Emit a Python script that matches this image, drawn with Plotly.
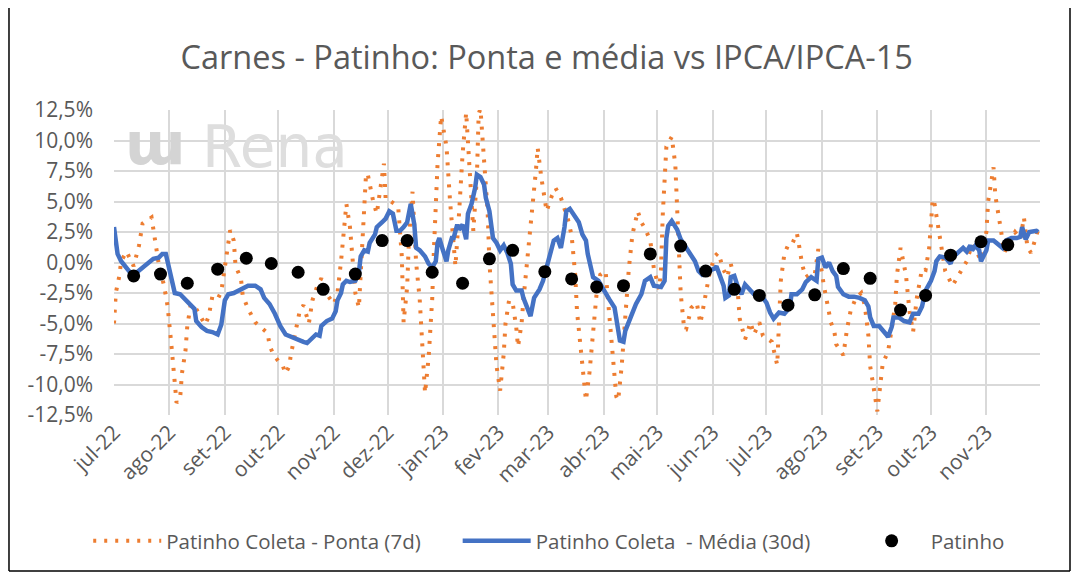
import plotly.graph_objects as go

# Patinho Coleta - Ponta (7d), variação em %
ponta_datas = [
    '2022-07-01', '2022-07-02', '2022-07-04', '2022-07-05', '2022-07-08', '2022-07-10', '2022-07-12',
    '2022-07-15', '2022-07-17', '2022-07-22', '2022-07-24', '2022-07-26', '2022-07-29', '2022-07-31',
    '2022-08-02', '2022-08-03', '2022-08-05', '2022-08-07', '2022-08-08', '2022-08-10', '2022-08-11',
    '2022-08-13', '2022-08-16', '2022-08-21', '2022-08-23', '2022-08-25', '2022-08-28', '2022-08-30',
    '2022-09-01', '2022-09-02', '2022-09-03', '2022-09-04', '2022-09-06', '2022-09-07', '2022-09-10',
    '2022-09-11', '2022-09-14', '2022-09-18', '2022-09-21', '2022-09-25', '2022-09-26', '2022-09-28',
    '2022-10-01', '2022-10-03', '2022-10-05', '2022-10-07', '2022-10-08', '2022-10-12', '2022-10-13',
    '2022-10-15', '2022-10-18', '2022-10-20', '2022-10-23', '2022-10-25', '2022-10-27', '2022-10-29',
    '2022-11-01', '2022-11-03', '2022-11-05', '2022-11-06', '2022-11-07', '2022-11-08', '2022-11-10',
    '2022-11-11', '2022-11-12', '2022-11-13', '2022-11-15', '2022-11-16', '2022-11-17', '2022-11-18',
    '2022-11-19', '2022-11-20', '2022-11-21', '2022-11-23', '2022-11-25', '2022-11-26', '2022-11-27',
    '2022-11-28', '2022-11-29', '2022-11-30', '2022-12-03', '2022-12-05', '2022-12-07', '2022-12-09',
    '2022-12-10', '2022-12-12', '2022-12-13', '2022-12-15', '2022-12-16', '2022-12-17', '2022-12-19',
    '2022-12-20', '2022-12-21', '2022-12-22', '2022-12-24', '2022-12-26', '2022-12-27', '2022-12-28',
    '2022-12-29', '2022-12-31', '2023-01-03', '2023-01-05', '2023-01-07', '2023-01-08', '2023-01-10',
    '2023-01-12', '2023-01-14', '2023-01-16', '2023-01-17', '2023-01-18', '2023-01-20', '2023-01-21',
    '2023-01-22', '2023-01-24', '2023-01-26', '2023-01-27', '2023-01-29', '2023-01-31', '2023-02-02',
    '2023-02-04', '2023-02-05', '2023-02-07', '2023-02-09', '2023-02-11', '2023-02-12', '2023-02-14',
    '2023-02-15', '2023-02-18', '2023-02-20', '2023-02-22', '2023-02-23', '2023-02-25', '2023-02-28',
    '2023-03-03', '2023-03-05', '2023-03-08', '2023-03-10', '2023-03-12', '2023-03-14', '2023-03-16',
    '2023-03-17', '2023-03-19', '2023-03-20', '2023-03-22', '2023-03-24', '2023-03-26', '2023-03-28',
    '2023-03-30', '2023-04-02', '2023-04-03', '2023-04-05', '2023-04-07', '2023-04-08', '2023-04-09',
    '2023-04-11', '2023-04-13', '2023-04-15', '2023-04-17', '2023-04-20', '2023-04-22', '2023-04-24',
    '2023-04-27', '2023-04-29', '2023-05-02', '2023-05-03', '2023-05-04', '2023-05-05', '2023-05-06',
    '2023-05-09', '2023-05-11', '2023-05-12', '2023-05-13', '2023-05-14', '2023-05-16', '2023-05-17',
    '2023-05-20', '2023-05-23', '2023-05-25', '2023-05-28', '2023-05-30', '2023-06-02', '2023-06-04',
    '2023-06-07', '2023-06-09', '2023-06-11', '2023-06-13', '2023-06-15', '2023-06-16', '2023-06-19',
    '2023-06-21', '2023-06-22', '2023-06-24', '2023-06-27', '2023-06-29', '2023-07-04', '2023-07-07',
    '2023-07-08', '2023-07-09', '2023-07-11', '2023-07-13', '2023-07-15', '2023-07-18', '2023-07-19',
    '2023-07-21', '2023-07-23', '2023-07-25', '2023-07-28', '2023-07-30', '2023-08-02', '2023-08-04',
    '2023-08-06', '2023-08-08', '2023-08-09', '2023-08-13', '2023-08-15', '2023-08-17', '2023-08-20',
    '2023-08-23', '2023-08-25', '2023-08-27', '2023-08-28', '2023-08-30', '2023-09-01', '2023-09-04',
    '2023-09-07', '2023-09-09', '2023-09-11', '2023-09-12', '2023-09-14', '2023-09-17', '2023-09-19',
    '2023-09-21', '2023-09-23', '2023-09-26', '2023-09-28', '2023-09-30', '2023-10-02', '2023-10-03',
    '2023-10-05', '2023-10-07', '2023-10-09', '2023-10-13', '2023-10-15', '2023-10-18', '2023-10-21',
    '2023-10-24', '2023-10-27', '2023-10-29', '2023-11-01', '2023-11-02', '2023-11-05', '2023-11-06',
    '2023-11-09', '2023-11-11', '2023-11-14', '2023-11-17', '2023-11-20', '2023-11-22', '2023-11-24',
    '2023-11-26', '2023-11-29', '2023-11-30',
]
ponta_valores = [
    -5.0, -2.5, -1.1, 0.1, 0.9, 0.3, -0.3,
    1.4, 3.2, 3.7, 1.8, -0.1, -1.9, -3.6,
    -6.6, -8.6, -11.5, -11.1, -9.1, -7.2, -5.2,
    -3.4, -3.8, -5.1, -4.4, -2.8, -3.0, -2.4,
    -0.4, 1.1, 2.0, 2.65, 1.8, -0.3, -1.3,
    -2.7, -3.8, -4.9, -5.3, -5.8, -6.8, -7.5,
    -8.1, -8.3, -9.1, -8.5, -7.5, -4.7, -3.9,
    -3.5, -5.0, -3.1, -1.8, -1.3, -2.1, -2.8,
    -3.4, -2.5, 0.1, 1.9, 4.0, 4.8, 2.9,
    0.8, -1.0, -2.5, -3.7, -1.0, 2.3, 5.3,
    7.3, 7.2, 6.3, 5.0, 4.0, 4.9, 5.9,
    7.0, 8.1, 5.1, 5.0, 4.8, 4.5, 0.5,
    -4.9, -2.0, 2.0, 5.8, 2.5, 0.0, -3.0,
    -5.9, -8.7, -10.7, -7.8, -3.0, 1.2, 5.2,
    8.1, 12.0, 9.5, 5.0, 1.5, -0.3, 4.0,
    8.9, 12.3, 7.5, 4.5, 2.6, 7.0, 12.2,
    12.6, 8.0, 4.2, 0.0, -4.8, -8.5, -10.5,
    -7.5, -5.0, -3.1, -3.3, -5.3, -6.9, -5.0,
    -3.1, 1.0, 4.5, 7.5, 9.4, 7.0, 4.2,
    5.5, 6.1, 5.3, 4.5, 3.5, 2.2, -1.0,
    -4.0, -6.9, -9.0, -11.3, -9.0, -5.5, -2.5,
    -1.0, -0.7, -2.5, -6.0, -9.0, -11.0, -11.3,
    -8.5, -4.5, -0.5, 2.3, 4.2, 3.3, 2.8,
    1.8, -0.5, -2.2, -0.5, 4.0, 7.5, 9.5,
    10.3, 8.0, 4.5, 0.5, -2.5, -5.5, -5.5,
    -3.7, -3.3, -5.0, -2.5, -1.0, 0.5, 0.8,
    -0.6, -1.2, -0.1, -1.2, -2.5, -4.6, -6.3,
    -5.4, -4.9, -5.9, -4.9, -6.0, -6.5, -8.4,
    -5.0, -1.5, 0.7, 1.4, 1.4, 2.4, 1.6,
    -0.2, -1.2, -1.0, -1.0, 1.1, -1.8, -3.4,
    -4.9, -5.7, -6.7, -7.6, -5.5, -4.0, -2.9,
    -2.5, -3.5, -6.0, -8.5, -10.3, -12.2, -8.3,
    -7.3, -5.5, -3.4, -1.0, 1.2, -1.0, -4.0,
    -5.7, -3.0, -0.5, -0.6, 1.2, 5.2, 4.8,
    3.0, 0.8, -0.7, -1.9, -1.4, -0.8, 0.1,
    1.5, 0.8, 0.2, 2.5, 5.0, 7.8, 5.5,
    2.8, 0.8, 1.8, 2.5, 1.9, 3.7, 1.2,
    0.8, 2.2, 2.8,
]

# Patinho Coleta - Média (30d)
media_datas = [
    '2022-07-01', '2022-07-02', '2022-07-03', '2022-07-05', '2022-07-08', '2022-07-11', '2022-07-13',
    '2022-07-16', '2022-07-20', '2022-07-23', '2022-07-26', '2022-07-28', '2022-07-30', '2022-08-02',
    '2022-08-04', '2022-08-07', '2022-08-09', '2022-08-12', '2022-08-15', '2022-08-16', '2022-08-19',
    '2022-08-22', '2022-08-25', '2022-08-28', '2022-08-30', '2022-09-01', '2022-09-03', '2022-09-06',
    '2022-09-09', '2022-09-12', '2022-09-14', '2022-09-18', '2022-09-21', '2022-09-23', '2022-09-26',
    '2022-09-29', '2022-10-02', '2022-10-05', '2022-10-08', '2022-10-12', '2022-10-15', '2022-10-17',
    '2022-10-20', '2022-10-22', '2022-10-24', '2022-10-25', '2022-10-28', '2022-10-31', '2022-11-02',
    '2022-11-03', '2022-11-05', '2022-11-06', '2022-11-08', '2022-11-10', '2022-11-13', '2022-11-15',
    '2022-11-16', '2022-11-18', '2022-11-20', '2022-11-21', '2022-11-24', '2022-11-25', '2022-11-28',
    '2022-11-30', '2022-12-02', '2022-12-04', '2022-12-06', '2022-12-08', '2022-12-10', '2022-12-12',
    '2022-12-14', '2022-12-16', '2022-12-17', '2022-12-19', '2022-12-22', '2022-12-24', '2022-12-26',
    '2022-12-28', '2022-12-29', '2022-12-30', '2023-01-01', '2023-01-03', '2023-01-04', '2023-01-06',
    '2023-01-07', '2023-01-09', '2023-01-10', '2023-01-12', '2023-01-14', '2023-01-15', '2023-01-17',
    '2023-01-19', '2023-01-20', '2023-01-22', '2023-01-24', '2023-01-25', '2023-01-27', '2023-01-28',
    '2023-01-29', '2023-01-31', '2023-02-02', '2023-02-04', '2023-02-06', '2023-02-08', '2023-02-09',
    '2023-02-11', '2023-02-14', '2023-02-15', '2023-02-17', '2023-02-19', '2023-02-21', '2023-02-24',
    '2023-02-26', '2023-02-28', '2023-03-02', '2023-03-04', '2023-03-06', '2023-03-08', '2023-03-10',
    '2023-03-11', '2023-03-13', '2023-03-15', '2023-03-18', '2023-03-20', '2023-03-22', '2023-03-23',
    '2023-03-25', '2023-03-26', '2023-03-29', '2023-04-01', '2023-04-04', '2023-04-07', '2023-04-08',
    '2023-04-09', '2023-04-10', '2023-04-12', '2023-04-13', '2023-04-16', '2023-04-19', '2023-04-22',
    '2023-04-24', '2023-04-27', '2023-04-29', '2023-05-03', '2023-05-05', '2023-05-06', '2023-05-07',
    '2023-05-09', '2023-05-12', '2023-05-14', '2023-05-17', '2023-05-20', '2023-05-22', '2023-05-24',
    '2023-05-26', '2023-05-29', '2023-06-02', '2023-06-03', '2023-06-05', '2023-06-07', '2023-06-08',
    '2023-06-10', '2023-06-11', '2023-06-13', '2023-06-15', '2023-06-17', '2023-06-19', '2023-06-22',
    '2023-06-24', '2023-06-28', '2023-07-01', '2023-07-03', '2023-07-05', '2023-07-08', '2023-07-11',
    '2023-07-14', '2023-07-15', '2023-07-18', '2023-07-21', '2023-07-23', '2023-07-26', '2023-07-29',
    '2023-07-30', '2023-08-01', '2023-08-03', '2023-08-05', '2023-08-07', '2023-08-09', '2023-08-10',
    '2023-08-13', '2023-08-16', '2023-08-19', '2023-08-22', '2023-08-25', '2023-08-27', '2023-08-28',
    '2023-08-30', '2023-09-02', '2023-09-04', '2023-09-06', '2023-09-07', '2023-09-09', '2023-09-10',
    '2023-09-13', '2023-09-16', '2023-09-19', '2023-09-21', '2023-09-24', '2023-09-26', '2023-09-28',
    '2023-10-01', '2023-10-03', '2023-10-04', '2023-10-06', '2023-10-09', '2023-10-12', '2023-10-13',
    '2023-10-16', '2023-10-19', '2023-10-21', '2023-10-23', '2023-10-24', '2023-10-26', '2023-10-28',
    '2023-10-29', '2023-11-01', '2023-11-02', '2023-11-05', '2023-11-07', '2023-11-10', '2023-11-12',
    '2023-11-15', '2023-11-18', '2023-11-20', '2023-11-21', '2023-11-23', '2023-11-25', '2023-11-29',
    '2023-11-30',
]
media_valores = [
    2.9, 1.5, 0.7, 0.1, -0.4, -1.0, -0.9,
    -0.55, -0.1, 0.3, 0.4, 0.7, 0.7, -1.2,
    -2.5, -2.6, -2.9, -3.3, -3.8, -4.8, -5.3,
    -5.6, -5.7, -5.9, -5.1, -3.1, -2.6, -2.5,
    -2.3, -2.0, -1.9, -1.9, -2.2, -2.9, -3.4,
    -4.2, -5.2, -5.9, -6.1, -6.4, -6.5, -6.6,
    -6.1, -5.9, -6.0, -5.2, -4.8, -4.6, -4.0,
    -3.1, -2.5, -1.8, -1.5, -1.6, -1.5, -0.8,
    0.5, 1.0, 0.9, 1.6, 2.3, 2.9, 3.3,
    3.6, 4.2, 4.0, 2.6, 2.6, 2.9, 3.3,
    4.8, 3.1, 1.2, 1.0, 0.5, -0.1, -0.4,
    0.1, 1.6, 2.0, 1.0, 0.1, 1.0, 2.0,
    2.0, 3.1, 2.7, 3.1, 1.9, 4.0, 4.8,
    6.1, 7.2, 7.0, 6.4, 5.3, 4.2, 3.1,
    2.0, 1.6, 1.0, 1.4, 0.8, -0.1, -1.8,
    -2.3, -2.3, -2.9, -3.7, -4.4, -2.9, -2.2,
    -1.5, -0.4, 0.7, 1.8, 2.0, 1.2, 2.9,
    4.2, 4.4, 4.0, 3.3, 2.3, 1.8, 0.7,
    -0.7, -1.2, -1.5, -2.3, -3.0, -3.7, -4.5,
    -5.7, -6.4, -6.5, -5.6, -4.5, -3.4, -2.6,
    -1.5, -1.2, -1.9, -2.0, -1.5, 2.0, 3.0,
    3.4, 2.7, 1.9, 1.2, 0.4, 0.1, -0.7,
    -1.0, -0.7, -0.5, -0.3, -1.1, -1.9, -2.9,
    -2.7, -1.2, -1.1, -2.0, -2.6, -1.8, -2.3,
    -2.6, -2.7, -3.3, -4.1, -4.6, -4.1, -4.2,
    -3.7, -2.6, -2.6, -2.2, -1.6, -1.2, -1.5,
    0.3, 0.4, -0.4, 0.0, -0.7, -1.1, -2.0,
    -2.6, -2.8, -2.8, -2.9, -3.1, -3.6, -4.5,
    -5.2, -5.2, -5.5, -5.9, -6.1, -5.3, -4.5,
    -4.5, -4.8, -4.9, -4.2, -4.2, -3.6, -2.3,
    -1.5, -0.7, 0.1, 0.5, 0.4, -0.1, 0.4,
    0.8, 1.2, 0.9, 1.4, 1.0, 1.4, 1.0,
    0.1, 1.0, 1.8, 1.8, 1.6, 1.2, 1.8,
    2.0, 2.0, 2.1, 2.9, 1.9, 2.5, 2.6,
    2.5,
]

# Patinho (IPCA / IPCA-15)
ipca_datas = [
    '2022-07-12', '2022-07-27', '2022-08-11', '2022-08-28', '2022-09-13', '2022-09-27',
    '2022-10-12', '2022-10-26', '2022-11-13', '2022-11-28', '2022-12-12', '2022-12-26',
    '2023-01-12', '2023-01-27', '2023-02-09', '2023-02-27', '2023-03-14', '2023-03-28',
    '2023-04-12', '2023-04-27', '2023-05-14', '2023-05-28', '2023-06-13', '2023-06-27',
    '2023-07-13', '2023-07-28', '2023-08-13', '2023-08-28', '2023-09-14', '2023-09-28',
    '2023-10-12', '2023-10-29', '2023-11-13',
]
ipca_valores = [
    -1.1, -0.95, -1.7, -0.55, 0.35, -0.08,
    -0.8, -2.2, -0.95, 1.8, 1.8, -0.8,
    -1.7, 0.3, 1.0, -0.75, -1.35, -2.0,
    -1.9, 0.7, 1.35, -0.7, -2.2, -2.7,
    -3.5, -2.65, -0.5, -1.3, -3.9, -2.7,
    0.6, 1.7, 1.45,
]

meses = [
    '2022-07-01', '2022-08-01', '2022-09-01', '2022-10-01', '2022-11-01', '2022-12-01',
    '2023-01-01', '2023-02-01', '2023-03-01', '2023-04-01', '2023-05-01', '2023-06-01',
    '2023-07-01', '2023-08-01', '2023-09-01', '2023-10-01', '2023-11-01',
]
rotulos_meses = [
    'jul-22', 'ago-22', 'set-22', 'out-22', 'nov-22', 'dez-22', 'jan-23', 'fev-23', 'mar-23',
    'abr-23', 'mai-23', 'jun-23', 'jul-23', 'ago-23', 'set-23', 'out-23', 'nov-23',
]
y_ticks = [-12.5, -10, -7.5, -5, -2.5, 0, 2.5, 5, 7.5, 10, 12.5]
y_rotulos = ['-12,5%', '-10,0%', '-7,5%', '-5,0%', '-2,5%', '0,0%',
             '2,5%', '5,0%', '7,5%', '10,0%', '12,5%']

FONTE = 'Open Sans'
CINZA = '#595959'
NB = '\u00a0'  # espaço fixo para afastar os itens da legenda

fig = go.Figure()
fig.add_trace(go.Scatter(
    x=ponta_datas, y=ponta_valores, mode='lines',
    name='Patinho Coleta - Ponta (7d)' + NB * 6,
    line=dict(color='#ED7D31', width=4, dash='3px,8px'),
))
fig.add_trace(go.Scatter(
    x=media_datas, y=media_valores, mode='lines',
    name='Patinho Coleta' + NB + ' - Média (30d)' + NB * 7,
    line=dict(color='#4472C4', width=4.5),
))
fig.add_trace(go.Scatter(
    x=ipca_datas, y=ipca_valores, mode='markers',
    name='Patinho',
    marker=dict(color='black', size=13),
))

# moldura do gráfico (esquerda, direita e base)
for x0, y0, x1, y1 in [(-0.1134, -0.5115, -0.1134, 1.34),
                       (1.0324, -0.5115, 1.0324, 1.34),
                       (-0.1134, -0.5115, 1.0324, -0.5115)]:
    fig.add_shape(type='line', xref='paper', yref='paper', x0=x0, y0=y0, x1=x1, y1=y1,
                  line=dict(color='black', width=1.5), layer='below')

# marca d'água
fig.add_annotation(text='<b>ɯ</b>', xref='paper', yref='paper', x=0.0443, y=0.89,
                   xanchor='center', yanchor='middle', showarrow=False,
                   font=dict(family='DejaVu Sans', size=58, color='#d4d4d4'))
fig.add_annotation(text='Rena', xref='paper', yref='paper', x=0.174, y=0.879,
                   xanchor='center', yanchor='middle', showarrow=False,
                   font=dict(family='DejaVu Sans', size=58, color='#dedede'))

fig.update_layout(
    width=1071, height=565,
    margin=dict(l=106, r=39, t=102, b=158),
    paper_bgcolor='white', plot_bgcolor='white',
    font=dict(family=FONTE, color=CINZA, size=20),
    title=dict(text='Carnes - Patinho: Ponta e média vs IPCA/IPCA-15',
               x=0.503, y=0.9115, xref='container', yref='container',
               xanchor='center', yanchor='middle',
               font=dict(family=FONTE, size=32.5, color=CINZA)),
    showlegend=True,
    legend=dict(orientation='h', x=0.47, y=-0.413, xanchor='center', yanchor='middle',
                font=dict(size=20.5, color=CINZA), itemwidth=68),
    xaxis=dict(
        type='date', range=['2022-07-01', '2023-12-01'],
        tickvals=meses, ticktext=rotulos_meses, tickangle=-45,
        showgrid=True, gridcolor='#d9d9d9', gridwidth=1.5,
        zeroline=False, showline=False, ticks='',
        tickfont=dict(size=21, color=CINZA),
    ),
    yaxis=dict(
        range=[-12.5, 12.5], tickvals=y_ticks, ticktext=y_rotulos,
        showgrid=True, gridcolor='#d9d9d9', gridwidth=1.5,
        zeroline=False, showline=False, ticks='',
        tickfont=dict(size=21, color=CINZA), ticklabelstandoff=20,
    ),
)

fig.write_html('out.html')
